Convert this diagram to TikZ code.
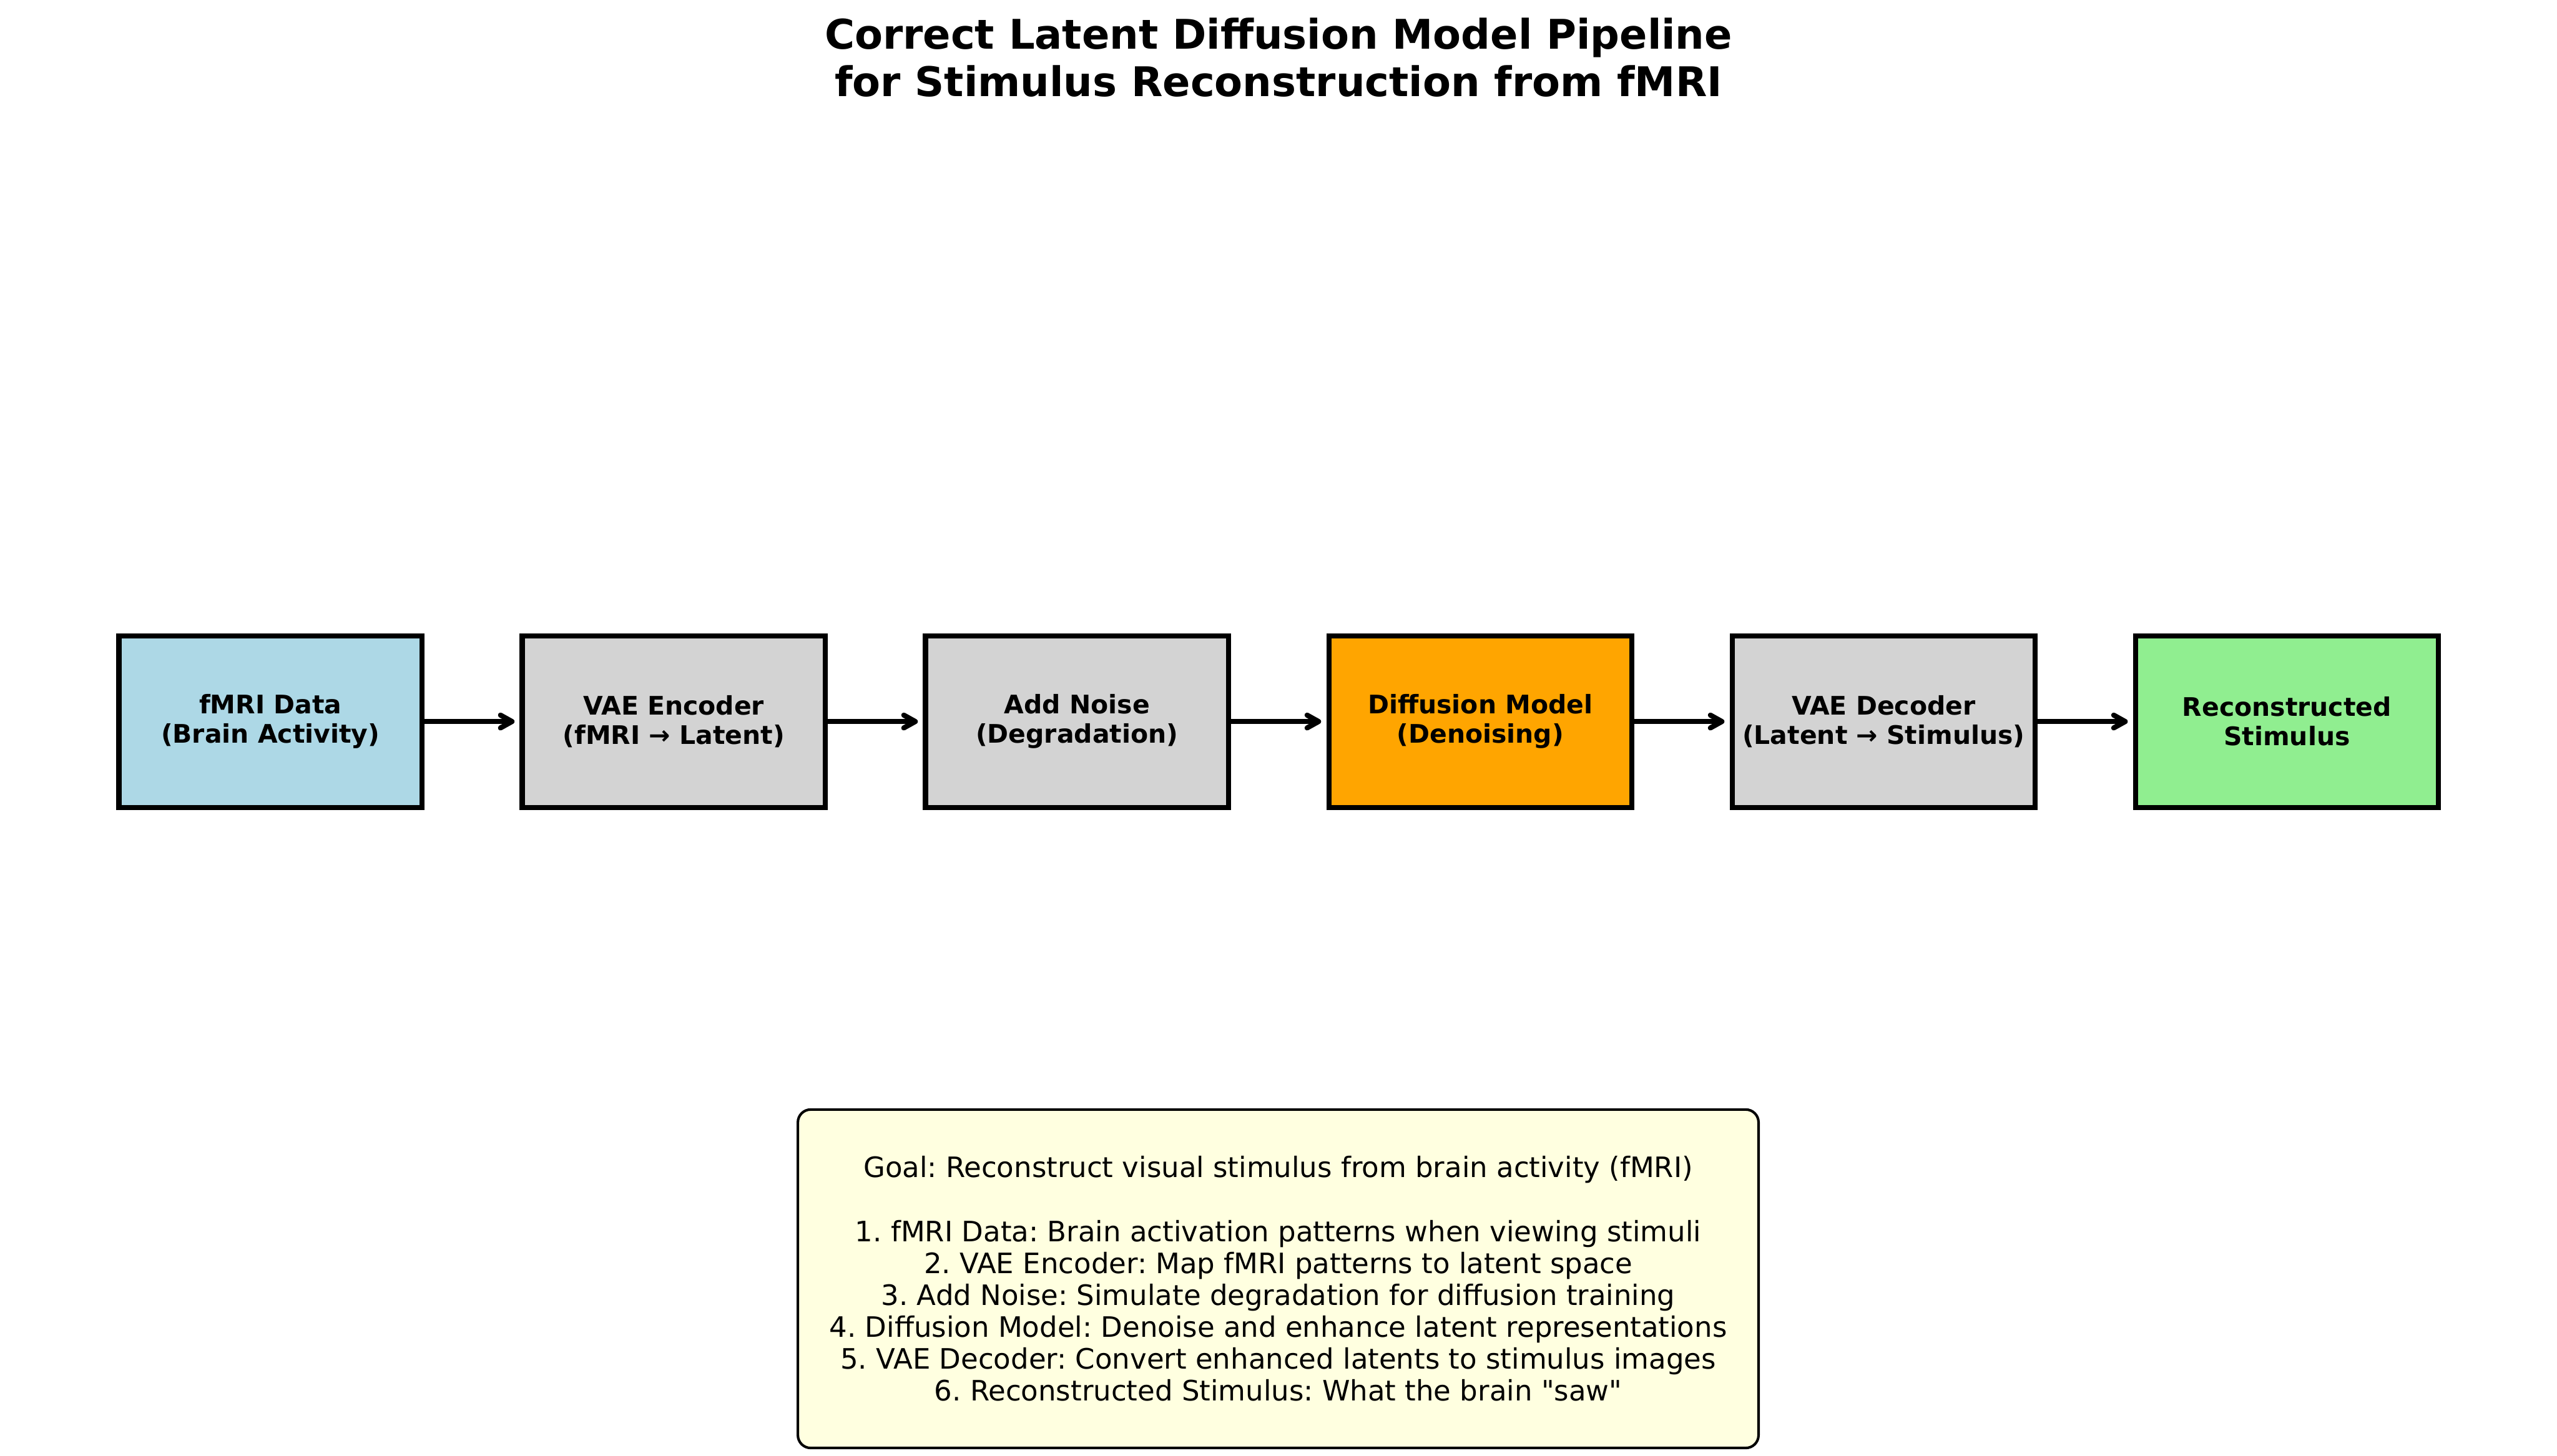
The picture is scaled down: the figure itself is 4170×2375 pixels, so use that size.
\documentclass[tikz,border=0pt]{standalone}
\usepackage{fontspec}
\setmainfont{DejaVu Sans}
\usetikzlibrary{positioning,arrows.meta}
\definecolor{fmriblue}{HTML}{ADD8E6}
\definecolor{stagegray}{HTML}{D3D3D3}
\definecolor{diffuorange}{HTML}{FFA500}
\definecolor{recongreen}{HTML}{90EE90}
\definecolor{goalyellow}{HTML}{FFFFE0}
\frenchspacing

\begin{document}
\begin{tikzpicture}[x=0.24pt,y=-0.24pt,
  stage/.style={draw, line width=2pt, minimum width=118.6pt, minimum height=67.2pt,
    inner sep=0pt, align=center, font=\bfseries\fontsize{10}{11.5}\selectfont},
  flow/.style={-{Straight Barb[length=4.5pt,width=5pt,round]}, line width=2pt,
    line cap=round, shorten >=2pt},
  goal/.style={draw, line width=1pt, rounded corners=5pt, fill=goalyellow,
    minimum width=376pt, minimum height=132.5pt, align=center,
    font=\fontsize{11}{12.5}\selectfont}]
\useasboundingbox (0,0) rectangle (4170,2375);

% Title
\node[align=center, font=\bfseries\fontsize{16}{18.5}\selectfont] (title) at (2085,94)
  {Correct Latent Diffusion Model Pipeline\\for Stimulus Reconstruction from fMRI};

% Pipeline stages
\node[stage, fill=fmriblue] (fmri) at (441,1177) {fMRI Data\\(Brain Activity)};
\node[stage, fill=stagegray] (enc) at (1098.7,1177) {VAE Encoder\\(fMRI → Latent)};
\node[stage, fill=stagegray] (noise) at (1756.4,1177) {Add Noise\\(Degradation)};
\node[stage, fill=diffuorange] (diffu) at (2414.1,1177) {Diffusion Model\\(Denoising)};
\node[stage, fill=stagegray] (dec) at (3071.8,1177) {VAE Decoder\\(Latent → Stimulus)};
\node[stage, fill=recongreen] (recon) at (3729.5,1177) {Reconstructed\\Stimulus};

% Arrows
\draw[flow] (fmri) -- (enc);
\draw[flow] (enc) -- (noise);
\draw[flow] (noise) -- (diffu);
\draw[flow] (diffu) -- (dec);
\draw[flow] (dec) -- (recon);

% Goal box
\node[goal] (goalbox) at (2084.5,2086)
  {Goal: Reconstruct visual stimulus from brain activity (fMRI)\\[12.5pt]
   1. fMRI Data: Brain activation patterns when viewing stimuli\\
   2. VAE Encoder: Map fMRI patterns to latent space\\
   3. Add Noise: Simulate degradation for diffusion training\\
   4. Diffusion Model: Denoise and enhance latent representations\\
   5. VAE Decoder: Convert enhanced latents to stimulus images\\
   6. Reconstructed Stimulus: What the brain \textquotedbl saw\textquotedbl};

\end{tikzpicture}
\end{document}
